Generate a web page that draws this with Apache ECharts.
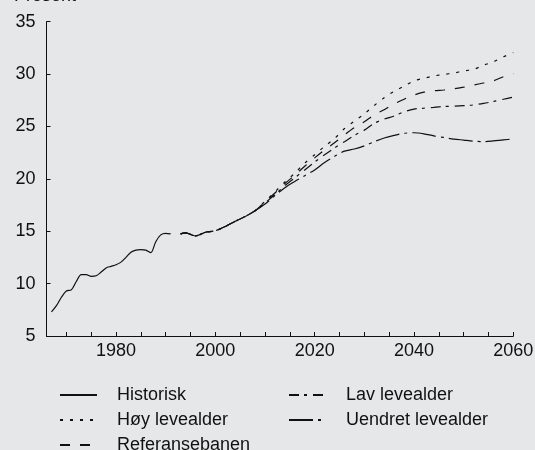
<!DOCTYPE html>
<html>
<head>
<meta charset="utf-8">
<script src="https://cdn.jsdelivr.net/npm/echarts@6/dist/echarts.min.js"></script>
<style>
  html, body { margin: 0; padding: 0; background: #e6e7e8; }
  #chart { width: 535px; height: 450px; }
</style>
</head>
<body>
<div id="chart"></div>
<script>
  // historiske tall
  var histYears = [1967, 1968, 1969, 1970, 1971, 1972, 1973, 1974, 1975, 1976, 1977, 1978, 1979,
    1980, 1981, 1982, 1983, 1984, 1985, 1986, 1987, 1988, 1989, 1990, 1991]
  var historisk = [7.3, 7.9, 8.7, 9.3, 9.4, 10.2, 10.85, 10.85, 10.7, 10.75, 11.1, 11.5, 11.65,
    11.8, 12.05, 12.5, 13.0, 13.2, 13.25, 13.2, 12.95, 14.0, 14.65, 14.8, 14.75]

  // framskrivinger
  var projYears = [1993, 1994, 1995, 1996, 1997, 1998, 2000, 2002, 2004, 2006, 2008,
    2010, 2012, 2014, 2016, 2018, 2020, 2022, 2024, 2026, 2028, 2030, 2032, 2034, 2036,
    2038, 2040, 2042, 2044, 2046, 2048, 2050, 2052, 2054, 2056, 2058, 2060]
  var felles = [14.75, 14.85, 14.7, 14.55, 14.7, 14.9, 15.05, 15.45, 15.95, 16.4, 16.95]
  var hoy = felles.concat([17.85, 18.75, 19.7, 20.55, 21.5, 22.3, 23.1, 23.85, 24.8, 25.5, 26.2,
    27.0, 27.75, 28.35, 28.85, 29.35, 29.6, 29.82, 29.97, 30.1, 30.3, 30.45, 30.85, 31.17, 31.65, 32.05])
  var referanse = felles.concat([17.8, 18.65, 19.55, 20.35, 21.2, 22.0, 22.75, 23.45, 24.2, 24.9, 25.45,
    26.1, 26.6, 27.15, 27.6, 28.0, 28.27, 28.42, 28.48, 28.6, 28.75, 28.95, 29.15, 29.35, 29.75, 30.05])
  var lav = felles.concat([17.7, 18.5, 19.35, 20.1, 20.85, 21.6, 22.3, 22.95, 23.55, 24.15, 24.65,
    25.3, 25.7, 26.0, 26.4, 26.66, 26.75, 26.82, 26.9, 26.93, 26.98, 27.06, 27.2, 27.38, 27.6, 27.8])
  var uendret = felles.concat([17.6, 18.4, 19.15, 19.75, 20.3, 20.85, 21.55, 22.15, 22.65, 22.85, 23.15,
    23.55, 23.9, 24.15, 24.35, 24.4, 24.3, 24.1, 23.95, 23.8, 23.7, 23.6, 23.55, 23.62, 23.72, 23.8])

  var xTicks = [1970, 1975, 1980, 1985, 1990, 1995, 2000, 2005, 2010, 2015, 2020, 2025,
    2030, 2035, 2040, 2045, 2050, 2055, 2060]
  var xLabels = [1980, 2000, 2020, 2040, 2060]

  function pairs (xs, ys) {
    return xs.map(function (x, i) { return [x, ys[i]] })
  }

  var font = 'Liberation Sans, Arial, sans-serif'
  var ink = '#111'

  function serie (name, xs, ys, dash) {
    return {
      name: name,
      type: 'line',
      data: pairs(xs, ys),
      symbol: 'none',
      smooth: 0.3,
      lineStyle: { color: ink, width: 1.2, type: dash },
      itemStyle: { color: ink }
    }
  }

  // en legend per element, plassert i to kolonner
  function legendItem (name, left, top) {
    return {
      data: [name],
      left: left,
      top: top,
      padding: 0,
      itemWidth: 37,
      itemHeight: 14,
      selectedMode: false,
      itemStyle: { opacity: 0 },
      textStyle: { fontFamily: font, fontSize: 18, color: ink, padding: [0, 0, 0, 15] }
    }
  }

  var option = {
    animation: false,
    backgroundColor: '#e6e7e8',
    textStyle: { fontFamily: font },
    graphic: [{
      type: 'text',
      left: 14,
      top: -13,
      style: { text: 'Prosent', fontFamily: font, fontSize: 18, fill: ink }
    }],
    grid: { left: 46.5, right: 21.7, top: 21.7, bottom: 114, containLabel: false, outerBoundsMode: 'none' },
    legend: [
      legendItem('Historisk', 59, 386),
      legendItem('Høy levealder', 59, 411),
      legendItem('Referansebanen', 59, 436),
      legendItem('Lav levealder', 288, 386),
      legendItem('Uendret levealder', 288, 411)
    ],
    xAxis: {
      type: 'value',
      min: 1966,
      max: 2060,
      splitLine: { show: false },
      axisLine: { lineStyle: { color: ink, width: 1 } },
      axisTick: { inside: true, length: 4, customValues: xTicks, lineStyle: { color: ink } },
      axisLabel: {
        customValues: xLabels,
        formatter: function (v) { return String(v) },
        color: ink, fontSize: 18, fontFamily: font, margin: 6
      }
    },
    yAxis: {
      type: 'value',
      min: 5,
      max: 35,
      interval: 5,
      splitLine: { show: false },
      axisLine: { show: true, lineStyle: { color: ink, width: 1 } },
      axisTick: { show: true, inside: true, length: 4, lineStyle: { color: ink } },
      axisLabel: { color: ink, fontSize: 18, fontFamily: font, margin: 11 }
    },
    series: [
      serie('Historisk', histYears, historisk, 'solid'),
      serie('Høy levealder', projYears, hoy, [3, 7]),
      serie('Referansebanen', projYears, referanse, [10, 10]),
      serie('Lav levealder', projYears, lav, [10, 5, 3, 6]),
      serie('Uendret levealder', projYears, uendret, [24, 5, 3, 5])
    ]
  }

  var myChart = echarts.init(document.getElementById('chart'))
  myChart.setOption(option)
</script>
</body>
</html>
